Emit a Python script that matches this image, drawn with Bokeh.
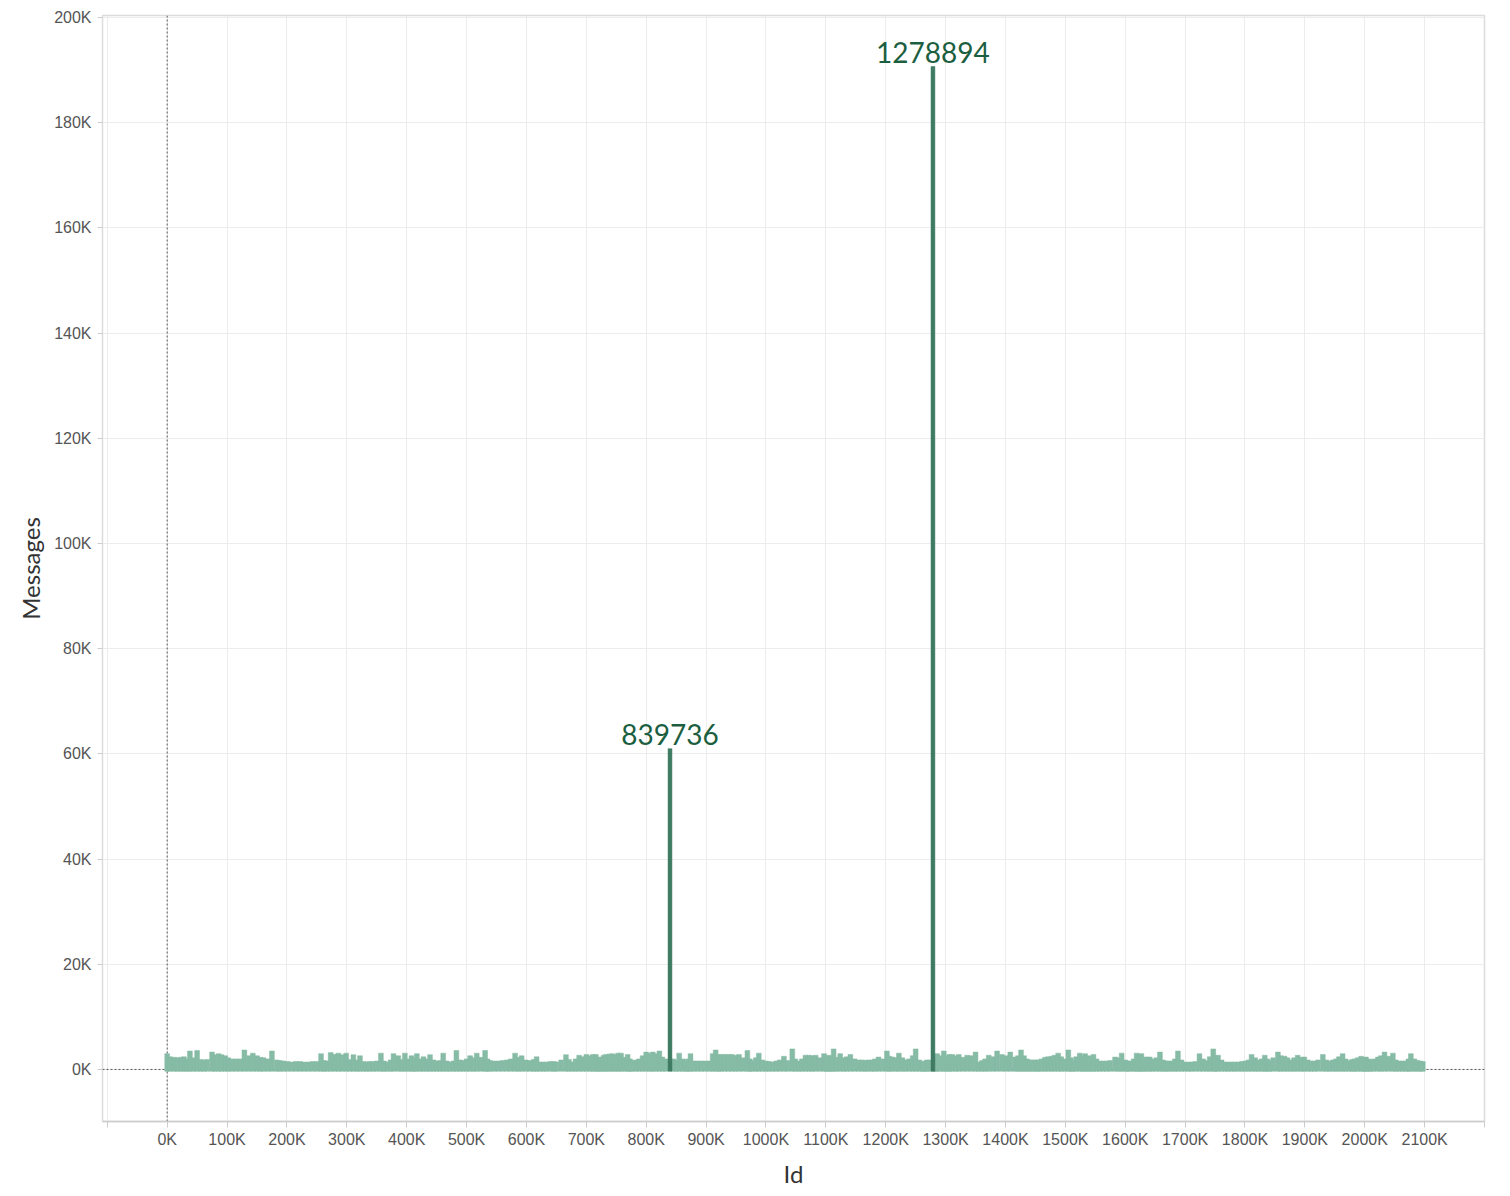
from bokeh.plotting import figure
from bokeh.models import ColumnDataSource, Span, FixedTicker, Range1d
from bokeh.core.properties import value
from bokeh.embed import file_html
from bokeh.resources import INLINE

# Id (in thousands) and message counts (in thousands)
pairs = [
    (0, 3.0), (5, 2.4), (12, 2.3), (17, 2.2), (23, 2.3), (28, 2.4), (33, 2.0), (38, 3.5), (44, 2.2), (50, 3.6),
    (56, 1.9), (61, 1.8), (67, 1.9), (75, 3.3), (80, 2.8), (86, 3.0), (91, 2.8), (97, 2.6), (102, 2.2), (108, 2.0),
    (115, 2.0), (122, 2.0), (129, 3.7), (136, 2.6), (143, 3.1), (150, 2.6), (156, 2.3), (161, 2.2), (168, 2.0), (175, 3.5),
    (183, 1.8), (188, 1.7), (194, 1.6), (201, 1.5), (208, 1.4), (215, 1.5), (222, 1.5), (229, 1.4), (236, 1.4), (243, 1.5),
    (250, 1.5), (257, 3.0), (262, 1.7), (267, 1.6), (273, 3.2), (280, 2.9), (286, 3.1), (292, 2.8), (299, 3.1), (305, 1.9),
    (311, 2.8), (317, 1.8), (322, 2.6), (328, 1.5), (333, 1.4), (338, 1.5), (344, 1.5), (350, 1.6), (357, 3.1), (362, 1.6),
    (367, 1.4), (373, 1.8), (378, 3.0), (386, 2.6), (392, 1.9), (397, 3.1), (403, 2.0), (408, 2.6), (413, 2.2), (417, 3.0),
    (423, 2.0), (428, 2.4), (434, 2.0), (439, 2.8), (445, 1.8), (450, 1.6), (456, 1.7), (461, 3.1), (467, 1.6), (472, 1.4),
    (478, 1.6), (483, 3.6), (489, 1.8), (494, 1.7), (500, 2.0), (506, 2.6), (512, 2.2), (517, 3.1), (524, 2.3), (531, 3.6),
    (535, 2.0), (539, 1.7), (546, 1.6), (553, 1.6), (560, 1.7), (567, 1.8), (574, 2.0), (581, 3.1), (587, 2.3), (592, 2.6),
    (599, 1.8), (606, 1.7), (612, 1.9), (617, 2.4), (622, 1.4), (628, 1.4), (633, 1.4), (640, 1.5), (646, 1.5), (650, 1.4),
    (658, 1.8), (666, 2.8), (671, 1.9), (677, 1.4), (682, 2.0), (688, 2.7), (694, 2.4), (700, 2.85), (706, 2.6), (711, 2.85),
    (716, 2.85), (720, 2.2), (724, 2.35), (729, 2.7), (733, 2.85), (738, 2.9), (743, 3.0), (748, 2.8), (753, 3.1), (758, 3.1),
    (764, 2.3), (769, 2.85), (773, 2.0), (777, 1.7), (783, 1.8), (788, 2.0), (794, 2.6), (800, 3.3), (806, 3.1), (811, 3.3),
    (816, 3.0), (822, 3.5), (827, 2.35), (833, 2.0), (839.736, 61.0), (845, 2.0), (850, 1.8), (855, 3.1), (861, 2.0), (866, 1.7),
    (870, 2.0), (874, 3.0), (880, 1.6), (886, 1.6), (892, 1.6), (898, 1.6), (905, 1.6), (911, 3.0), (916, 3.7), (921, 2.8),
    (925, 2.85), (931, 2.85), (937, 2.85), (943, 2.85), (949, 2.7), (955, 2.85), (962, 2.2), (969, 3.6), (973, 2.0), (977, 1.7),
    (983, 2.2), (988, 3.1), (994, 1.8), (1000, 1.6), (1005, 1.5), (1011, 1.4), (1017, 1.6), (1023, 1.8), (1030, 2.5), (1036, 1.7),
    (1044, 3.9), (1049, 2.0), (1055, 1.6), (1060, 2.0), (1066, 2.7), (1072, 2.7), (1077, 2.6), (1083, 2.7), (1090, 2.2), (1097, 3.0),
    (1101, 2.4), (1105, 2.7), (1109, 2.2), (1113, 3.9), (1118, 2.3), (1124, 3.0), (1130, 2.2), (1135, 2.4), (1141, 2.85), (1148, 2.0),
    (1155, 1.8), (1161, 1.8), (1166, 1.7), (1171, 1.8), (1177, 1.8), (1182, 2.0), (1188, 2.35), (1195, 2.0), (1202, 3.5), (1206, 2.5),
    (1211, 2.35), (1217, 2.2), (1222, 3.1), (1228, 2.2), (1233, 1.8), (1239, 2.0), (1245, 2.6), (1250, 3.9), (1256, 1.8), (1261, 1.4),
    (1265, 1.6), (1269, 1.8), (1274, 1.8), (1278.894, 190.7), (1283, 2.3), (1286, 3.0), (1292, 2.6), (1297, 3.5), (1302, 2.5), (1306, 2.85),
    (1311, 2.85), (1317, 2.6), (1322, 2.85), (1329, 2.3), (1336, 2.7), (1343, 2.6), (1350, 3.3), (1355, 1.4), (1361, 1.7), (1366, 2.0),
    (1372, 2.7), (1379, 2.4), (1386, 3.5), (1394, 2.85), (1401, 2.6), (1408, 3.3), (1416, 2.35), (1421, 2.6), (1426, 3.7), (1431, 2.6),
    (1436, 2.0), (1441, 1.8), (1446, 1.8), (1451, 1.8), (1455, 1.8), (1460, 2.0), (1466, 2.3), (1471, 2.4), (1477, 2.5), (1482, 2.7),
    (1488, 3.1), (1493, 2.4), (1499, 2.0), (1505, 3.7), (1509, 2.2), (1513, 1.7), (1518, 2.4), (1524, 3.1), (1529, 2.6), (1533, 3.0),
    (1538, 2.6), (1542, 2.5), (1547, 2.85), (1552, 2.0), (1557, 1.6), (1563, 1.6), (1569, 1.6), (1575, 1.7), (1583, 2.35), (1589, 2.2),
    (1594, 3.1), (1600, 1.8), (1604, 1.6), (1608, 1.6), (1614, 2.0), (1619, 3.1), (1623, 2.5), (1627, 3.0), (1631, 2.3), (1636, 2.35),
    (1641, 2.35), (1646, 2.0), (1652, 2.2), (1658, 3.3), (1663, 1.8), (1668, 1.6), (1672, 1.6), (1678, 1.6), (1683, 2.0), (1688, 3.5),
    (1694, 1.8), (1700, 1.4), (1706, 1.4), (1711, 1.4), (1717, 1.5), (1724, 3.0), (1730, 2.0), (1736, 1.7), (1741, 2.4), (1747, 3.9),
    (1751, 2.6), (1755, 2.7), (1761, 1.8), (1767, 1.4), (1772, 1.4), (1778, 1.4), (1783, 1.4), (1789, 1.4), (1795, 1.5), (1800, 1.6),
    (1806, 1.8), (1811, 2.85), (1817, 2.2), (1822, 1.8), (1828, 2.0), (1833, 2.7), (1837, 2.0), (1841, 1.7), (1847, 2.2), (1855, 3.3),
    (1860, 2.6), (1866, 2.5), (1871, 2.2), (1877, 1.8), (1882, 2.2), (1888, 2.7), (1894, 2.3), (1899, 2.35), (1905, 1.8), (1910, 1.6),
    (1916, 1.6), (1922, 1.8), (1930, 2.85), (1936, 1.8), (1941, 1.6), (1947, 1.8), (1952, 2.0), (1957, 2.4), (1963, 3.0), (1968, 2.0),
    (1974, 1.7), (1979, 1.9), (1983, 2.0), (1988, 2.2), (1994, 2.5), (1998, 2.2), (2002, 2.35), (2006, 2.0), (2010, 1.7), (2015, 2.0),
    (2022, 2.35), (2027, 2.6), (2033, 3.3), (2040, 2.5), (2047, 3.1), (2052, 1.8), (2057, 1.6), (2063, 1.6), (2068, 1.6), (2073, 2.0),
    (2077, 3.0), (2083, 2.0), (2088, 1.7), (2093, 1.6), (2097, 1.5),
]
ids = [round(a * 1000) for a, _ in pairs]
messages = [round(b * 1000) for _, b in pairs]

outlier_ids = [839736, 1278894]
outlier_labels = ["839736", "1278894"]

x_ticks = list(range(-100000, 2200001, 100000))
x_tick_labels = {t: ("" if t < 0 or t > 2100000 else f"{t // 1000}K") for t in x_ticks}
y_ticks = list(range(0, 200001, 20000))
y_tick_labels = {t: f"{t // 1000}K" for t in y_ticks}

BAND = "#86bba5"
SPIKE = "#3f7b62"

normal = ColumnDataSource(dict(
    x=[i for i, m in zip(ids, messages) if i not in outlier_ids],
    top=[m for i, m in zip(ids, messages) if i not in outlier_ids],
))
spikes = ColumnDataSource(dict(
    x=[i for i in ids if i in outlier_ids],
    top=[m for i, m in zip(ids, messages) if i in outlier_ids],
    label=outlier_labels,
))

p = figure(width=1494, height=1190, output_backend="svg", toolbar_location=None,
           x_range=Range1d(-108000, 2200000), y_range=Range1d(-9900, 200400),
           min_border_left=102, min_border_right=10, min_border_top=15, min_border_bottom=59)

p.background_fill_color = "white"
p.border_fill_color = "white"
p.outline_line_color = "#dcdcdc"
p.outline_line_width = 1.5

p.xgrid.grid_line_color = "#ececec"
p.ygrid.grid_line_color = "#ececec"
p.xgrid.ticker = FixedTicker(ticks=x_ticks)
p.ygrid.ticker = FixedTicker(ticks=y_ticks)

vz = Span(location=0, dimension="height", line_color="#555555", line_dash="2 2", line_width=1, level="underlay")
hz = Span(location=0, dimension="width", line_color="#555555", line_dash="2 2", line_width=1, level="underlay")
p.add_layout(vz)
p.add_layout(hz)

p.vbar(x="x", top="top", bottom=-350, width=8000, source=normal, fill_color=BAND, line_color=BAND, line_width=0.5)
p.vbar(x="x", top="top", bottom=-350, width=6500, source=spikes, fill_color=SPIKE, line_color=SPIKE, line_width=0.5)
p.text(x="x", y="top", text="label", source=spikes, text_align="center", text_baseline="bottom",
       y_offset=-4, text_font=value("Lato"), text_font_size="28px", text_color="#1b5e40")

xa = p.xaxis[0]
xa.ticker = FixedTicker(ticks=x_ticks)
xa.major_label_overrides = x_tick_labels
xa.axis_label = "Id"
xa.axis_label_text_font = "Lato"
xa.axis_label_text_font_style = "normal"
xa.axis_label_text_font_size = "24px"
xa.axis_label_text_color = "#333333"
xa.axis_label_standoff = 8
xa.major_label_text_font = "Liberation Sans"
xa.major_label_text_font_size = "16px"
xa.major_label_text_color = "#555555"
xa.major_label_standoff = 3
xa.axis_line_color = "#cccccc"
xa.axis_line_width = 1.5
xa.major_tick_line_color = "#cccccc"
xa.major_tick_out = 6
xa.major_tick_in = 0
xa.minor_tick_line_color = None

ya = p.yaxis[0]
ya.ticker = FixedTicker(ticks=y_ticks)
ya.major_label_overrides = y_tick_labels
ya.axis_label = "Messages"
ya.axis_label_text_font = "Lato"
ya.axis_label_text_font_style = "normal"
ya.axis_label_text_font_size = "24px"
ya.axis_label_text_color = "#333333"
ya.axis_label_standoff = 6
ya.major_label_text_font = "Liberation Sans"
ya.major_label_text_font_size = "16px"
ya.major_label_text_color = "#555555"
ya.major_label_standoff = 6
ya.axis_line_color = None
ya.major_tick_line_color = "#cccccc"
ya.major_tick_out = 5
ya.major_tick_in = 0
ya.minor_tick_line_color = None

open("out.html", "w").write(file_html(p, INLINE))
